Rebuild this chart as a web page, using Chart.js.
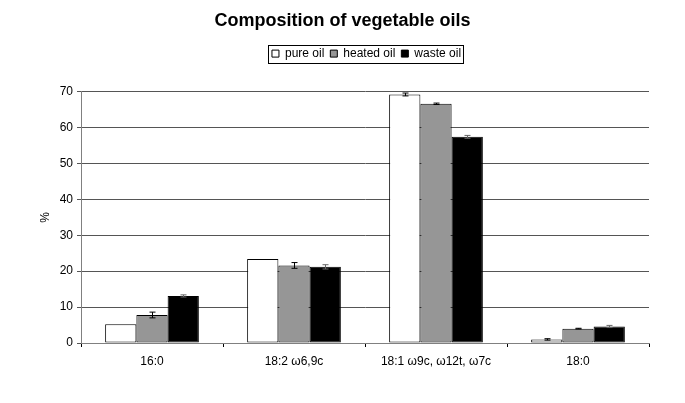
<!DOCTYPE html>
<html>
<head>
<meta charset="utf-8">
<script src="https://cdn.jsdelivr.net/npm/chart.js@4"></script>
<style>
  html, body { margin: 0; padding: 0; background: #fff; }
  #wrap { width: 685px; height: 403px; }
</style>
</head>
<body>
<div id="wrap"><canvas id="c" width="685" height="403"></canvas></div>
<script>
// values
const categories = ['16:0', '18:2 \u03c96,9c', '18:1 \u03c99c, \u03c912t, \u03c97c', '18:0'];
const pureOil = [5.2, 23.4, 69.2, 1.0];
const heatedOil = [7.8, 21.6, 66.6, 4.0];
const wasteOil = [13.1, 21.2, 57.4, 4.6];
const pureErr = [0, 0, 0.4, 0.2];
const heatedErr = [0.8, 0.8, 0.2, 0.1];
const wasteErr = [0.3, 0.6, 0.4, 0.3];
const yTicks = [0, 10, 20, 30, 40, 50, 60, 70];

const FONT = 'Liberation Sans';

const errorBars = {
    id: 'errorBars',
    afterDatasetsDraw(chart) {
        const ctx = chart.ctx;
        const y = chart.scales.y;
        ctx.save();
        ctx.lineWidth = 1;
        chart.data.datasets.forEach((ds, di) => {
            const meta = chart.getDatasetMeta(di);
            meta.data.forEach((bar, i) => {
                const e = ds.errors[i];
                if (!e) return;
                const v = ds.data[i];
                const x = Math.round(bar.x) + 0.5;
                const top = y.getPixelForValue(v + e);
                const bot = y.getPixelForValue(v - e);
                ctx.strokeStyle = di === 2 ? '#666' : '#000';
                ctx.beginPath();
                ctx.moveTo(x, top); ctx.lineTo(x, bot);
                ctx.moveTo(x - 3, top); ctx.lineTo(x + 3, top);
                ctx.moveTo(x - 3, bot); ctx.lineTo(x + 3, bot);
                ctx.stroke();
            });
        });
        ctx.restore();
    }
};

// title centred on the whole canvas; legend with extra space below it,
// centred over the plot area, with a frame
const headerTweak = {
    id: 'headerTweak',
    beforeInit(chart) {
        const tl = chart.titleBlock;
        const tdraw = tl.draw;
        tl.draw = function () {
            const ctx = chart.ctx;
            const shift = Math.round(chart.width / 2 - (this.left + this.right) / 2);
            ctx.save();
            ctx.translate(shift, 1);
            tdraw.call(this);
            ctx.restore();
        };

        const lg = chart.legend;
        const fit = lg.fit;
        lg.fit = function () {
            fit.call(this);
            this.height += 21;
        };
        const draw = lg.draw;
        lg.draw = function () {
            const boxes = this.legendHitBoxes;
            const ctx = chart.ctx;
            const l = Math.min(...boxes.map(b => b.left)) - 4;
            const r = Math.max(...boxes.map(b => b.left + b.width)) + 2;
            const t = Math.min(...boxes.map(b => b.top)) - 3;
            const bt = Math.max(...boxes.map(b => b.top + b.height)) + 3;
            const ca = chart.chartArea;
            const shift = Math.round((ca.left + ca.right) / 2 - (l + r) / 2);
            ctx.save();
            ctx.translate(shift, -1);
            draw.call(this);
            ctx.strokeStyle = '#000';
            ctx.lineWidth = 1;
            ctx.strokeRect(Math.round(l) + 0.5, Math.round(t) + 0.5, Math.round(r - l), Math.round(bt - t));
            ctx.restore();
        };
    }
};

function ds(label, data, errors, color) {
    return {
        label: label,
        data: data,
        errors: errors,
        backgroundColor: color,
        borderColor: '#000',
        borderWidth: 1,
        borderSkipped: false,
        categoryPercentage: 0.66,
        barPercentage: 1.0
    };
}

new Chart(document.getElementById('c'), {
    type: 'bar',
    data: {
        labels: categories,
        datasets: [
            ds('pure oil', pureOil, pureErr, '#ffffff'),
            ds('heated oil', heatedOil, heatedErr, '#969696'),
            ds('waste oil', wasteOil, wasteErr, '#000000')
        ]
    },
    options: {
        responsive: false,
        animation: false,
        layout: { padding: { top: 9, right: 36, bottom: 0, left: 0 } },
        plugins: {
            title: {
                display: true,
                text: 'Composition of vegetable oils',
                color: '#000',
                font: { family: FONT, size: 18, weight: 'bold' },
                padding: { top: 0, bottom: 12 }
            },
            legend: {
                position: 'top',
                labels: {
                    color: '#000',
                    font: { family: FONT, size: 12 },
                    boxWidth: 7,
                    boxHeight: 7,
                    padding: 6,
                    useBorderRadius: false
                }
            },
            tooltip: { enabled: false }
        },
        scales: {
            x: {
                grid: { drawOnChartArea: false, color: '#000', tickLength: 4, offset: true },
                border: { color: '#808080' },
                ticks: { color: '#000', font: { family: FONT, size: 12 }, padding: 7 },
                afterFit(s) { s.height = 60; }
            },
            y: {
                min: 0,
                max: 70,
                afterBuildTicks(s) { s.ticks = yTicks.map(v => ({ value: v })); },
                grid: { color: '#555', tickLength: 4 },
                border: { color: '#808080' },
                ticks: { color: '#000', font: { family: FONT, size: 12 }, padding: 4 },
                title: {
                    display: true, text: '%', color: '#000',
                    font: { family: FONT, size: 12 },
                    padding: { top: 38, bottom: 0 }
                },
                afterFit(s) { s.width = 81; }
            }
        }
    },
    plugins: [errorBars, headerTweak]
});
</script>
</body>
</html>
